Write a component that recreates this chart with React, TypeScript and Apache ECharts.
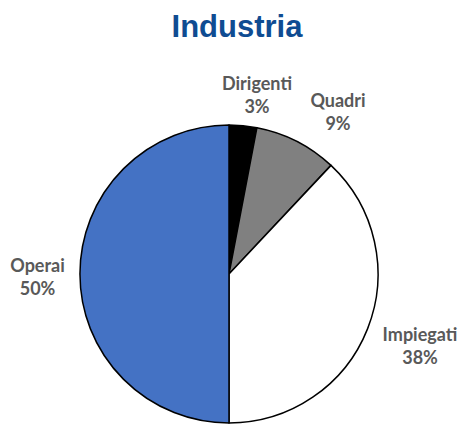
import React, { useEffect, useRef } from "react";
import * as echarts from "echarts";

const categories = ["Dirigenti", "Quadri", "Impiegati", "Operai"];
const values = [3, 9, 38, 50];
const sliceColors = ["#000000", "#808080", "#ffffff", "#4472C4"];
const titleText = "Industria";

// layout: label block centres in page pixels
const labelAnchors: [number, number][] = [
  [257, 94],
  [338, 111],
  [420, 345],
  [37.5, 276],
];

export default function App() {
  const ref = useRef<HTMLDivElement>(null);
  useEffect(() => {
    if (!ref.current) return;
    const chart = echarts.init(ref.current, undefined, { renderer: "svg" });
    chart.setOption({
      animation: false,
      backgroundColor: "#ffffff",
      graphic: [
        {
          type: "text",
          x: 237,
          y: 26,
          style: {
            text: titleText,
            fill: "#0F4C92",
            font: "bold 31px 'Liberation Sans', Arial, sans-serif",
            textAlign: "center",
            textVerticalAlign: "middle",
          },
        },
      ],
      series: [
        {
          type: "pie",
          center: [229, 274],
          radius: 149,
          startAngle: 90,
          clockwise: true,
          silent: true,
          data: categories.map((name, i) => ({
            name,
            value: values[i],
            itemStyle: { color: sliceColors[i] },
          })),
          itemStyle: { borderColor: "#000000", borderWidth: 1.5 },
          label: {
            show: true,
            formatter: "{b}\n{c}%",
            color: "#595959",
            fontFamily: "Lato, 'Open Sans', sans-serif",
            fontWeight: "bold",
            fontSize: 18,
            lineHeight: 23,
            align: "center",
            overflow: "none",
            width: 120,
          },
          labelLine: { show: false },
          labelLayout: (params: any) => {
            const p = labelAnchors[params.dataIndex];
            return { x: p[0], y: p[1], align: "center", verticalAlign: "middle" };
          },
        },
      ],
    });
    return () => chart.dispose();
  }, []);
  return (
    <div
      ref={ref}
      style={{ position: "fixed", left: 0, top: 0, width: 461, height: 425 }}
    />
  );
}
